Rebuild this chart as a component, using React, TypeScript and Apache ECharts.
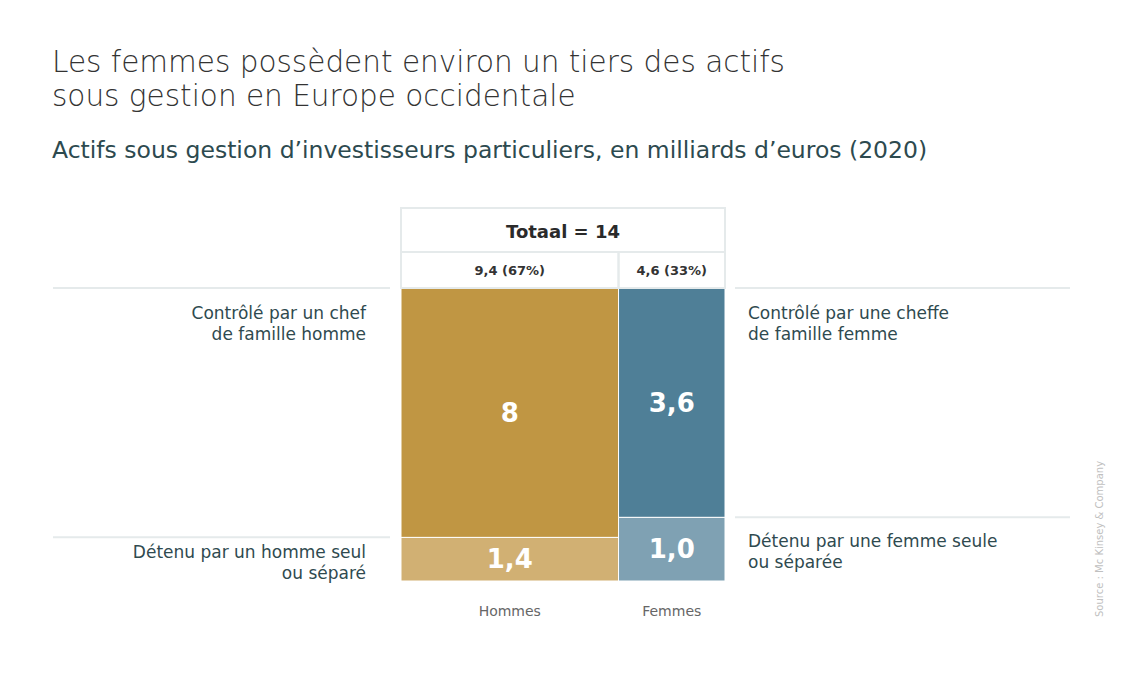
import React, { useEffect, useRef } from "react";
import * as echarts from "echarts";

const columns = ["Hommes", "Femmes"];
const chefValues = [8, 3.6];
const seulValues = [1.4, 1.0];
const leftLabels = ["Contrôlé par un chef\nde famille homme", "Détenu par un homme seul\nou séparé"];
const rightLabels = ["Contrôlé par une cheffe\nde famille femme", "Détenu par une femme seule\nou séparée"];
const totalLabel = "Totaal";
const titleLines = ["Les femmes possèdent environ un tiers des actifs", "sous gestion en Europe occidentale"];
const subtitleText = "Actifs sous gestion d’investisseurs particuliers, en milliards d’euros (2020)";
const sourceText = "Source : Mc Kinsey & Company";

const colors = [
  ["#d1b073", "#c09643"],
  ["#7fa1b3", "#4f7f97"],
];

const fmt = (v: number) => (Number.isInteger(v) && v >= 2 ? String(v) : v.toFixed(1).replace(".", ","));

export default function App() {
  const ref = useRef<HTMLDivElement>(null);
  useEffect(() => {
    if (!ref.current) return;
    const chart = echarts.init(ref.current, null, { renderer: "svg" });
    const totals = columns.map((_, i) => chefValues[i] + seulValues[i]);
    const grand = totals.reduce((a, b) => a + b, 0);
    const data: any[] = [];
    let acc = 0;
    columns.forEach((name, i) => {
      const x0 = acc;
      const x1 = acc + totals[i];
      const seulPct = (seulValues[i] / totals[i]) * 100;
      data.push({ value: [x0, x1, 0, seulPct, seulValues[i], i, 0] });
      data.push({ value: [x0, x1, seulPct, 100, chefValues[i], i, 1] });
      acc = x1;
    });
    const labelFont = "'DejaVu Sans', sans-serif";
    const lineColor = "#e5eaeb";
    const renderItem = (params: any, api: any) => {
      const x0 = api.value(0), x1 = api.value(1), y0 = api.value(2), y1 = api.value(3);
      const v = api.value(4), col = api.value(5), seg = api.value(6);
      const p0 = api.coord([x0, y0]);
      const p1 = api.coord([x1, y1]);
      const left = p0[0], right = p1[0], top = p1[1], bottom = p0[1];
      const children: any[] = [
        {
          type: "rect",
          shape: { x: left, y: top, width: right - left, height: bottom - top },
          style: { fill: colors[col][seg], stroke: "#ffffff", lineWidth: 1 },
        },
        {
          type: "text",
          x: (left + right) / 2,
          y: (top + bottom) / 2,
          style: {
            text: fmt(v),
            fill: "#ffffff",
            font: "700 26px 'DejaVu Sans', sans-serif",
            align: "center",
            verticalAlign: "middle",
          },
        },
      ];
      const lastCol = columns.length - 1;
      const labelOffset = seg === 1 ? 14 : col === 0 ? 4 : 13;
      if (col === 0) {
        children.push({
          type: "line",
          shape: { x1: 53, y1: top, x2: left - 11, y2: top },
          style: { stroke: lineColor, lineWidth: 2 },
        });
        children.push({
          type: "text",
          x: left - 35,
          y: top + labelOffset,
          style: {
            text: leftLabels[1 - seg],
            fill: "#2f4a4f",
            font: `400 17px ${labelFont}`,
            lineHeight: 21,
            align: "right",
            verticalAlign: "top",
          },
        });
      }
      if (col === lastCol) {
        children.push({
          type: "line",
          shape: { x1: right + 10, y1: top, x2: 1070, y2: top },
          style: { stroke: lineColor, lineWidth: 2 },
        });
        children.push({
          type: "text",
          x: right + 23,
          y: top + labelOffset,
          style: {
            text: rightLabels[1 - seg],
            fill: "#2f4a4f",
            font: `400 17px ${labelFont}`,
            lineHeight: 21,
            align: "left",
            verticalAlign: "top",
          },
        });
      }
      if (seg === 0) {
        children.push({
          type: "text",
          x: (left + right) / 2,
          y: bottom + 30,
          style: {
            text: columns[col],
            fill: "#666666",
            font: `400 14px ${labelFont}`,
            align: "center",
            verticalAlign: "middle",
          },
        });
      } else {
        const total = totals[col];
        children.push({
          type: "rect",
          shape: { x: left, y: top - 36, width: right - left, height: 36 },
          style: { fill: "none", stroke: lineColor, lineWidth: 2 },
        });
        children.push({
          type: "text",
          x: (left + right) / 2,
          y: top - 18,
          style: {
            text: `${fmt(total)} (${Math.round((total / grand) * 100)}%)`,
            fill: "#333333",
            font: "700 13px 'DejaVu Sans', sans-serif",
            align: "center",
            verticalAlign: "middle",
          },
        });
        if (col === 0) {
          const pEnd = api.coord([grand, 100]);
          children.push({
            type: "rect",
            shape: { x: left, y: top - 80, width: pEnd[0] - left, height: 44 },
            style: { fill: "none", stroke: lineColor, lineWidth: 2 },
          });
          children.push({
            type: "text",
            x: (left + pEnd[0]) / 2,
            y: top - 57,
            style: {
              text: `${totalLabel} = ${fmt(grand)}`,
              fill: "#2a2a2a",
              font: "700 18px 'DejaVu Sans', sans-serif",
              align: "center",
              verticalAlign: "middle",
            },
          });
        }
      }
      return { type: "group", children };
    };
    chart.setOption({
      animation: false,
      backgroundColor: "#ffffff",
      grid: { left: 401, right: 405, top: 288, bottom: 97 },
      xAxis: { type: "value", min: 0, max: grand, show: false },
      yAxis: { type: "value", min: 0, max: 100, show: false },
      graphic: [
        ...titleLines.map((t, i) => ({
          type: "text",
          x: 52,
          y: 62 + i * 34,
          style: {
            text: t,
            fill: "#333333",
            font: "200 29.5px 'DejaVu Sans', sans-serif",
            verticalAlign: "middle",
          },
        })),
        {
          type: "text",
          x: 52,
          y: 150,
          style: {
            text: subtitleText,
            fill: "#2d4a4f",
            font: "400 23.5px 'DejaVu Sans', sans-serif",
            verticalAlign: "middle",
          },
        },
        {
          type: "text",
          x: 1099,
          y: 617,
          rotation: Math.PI / 2,
          style: {
            text: sourceText,
            fill: "#c0c0c0",
            font: "400 10px 'DejaVu Sans', sans-serif",
            align: "left",
            verticalAlign: "middle",
          },
        },
      ],
      series: [
        {
          type: "custom",
          renderItem,
          data,
          encode: { x: [0, 1], y: [2, 3] },
        },
      ],
    });
    return () => chart.dispose();
  }, []);
  return <div ref={ref} style={{ position: "fixed", left: 0, top: 0, width: 1130, height: 678 }} />;
}
